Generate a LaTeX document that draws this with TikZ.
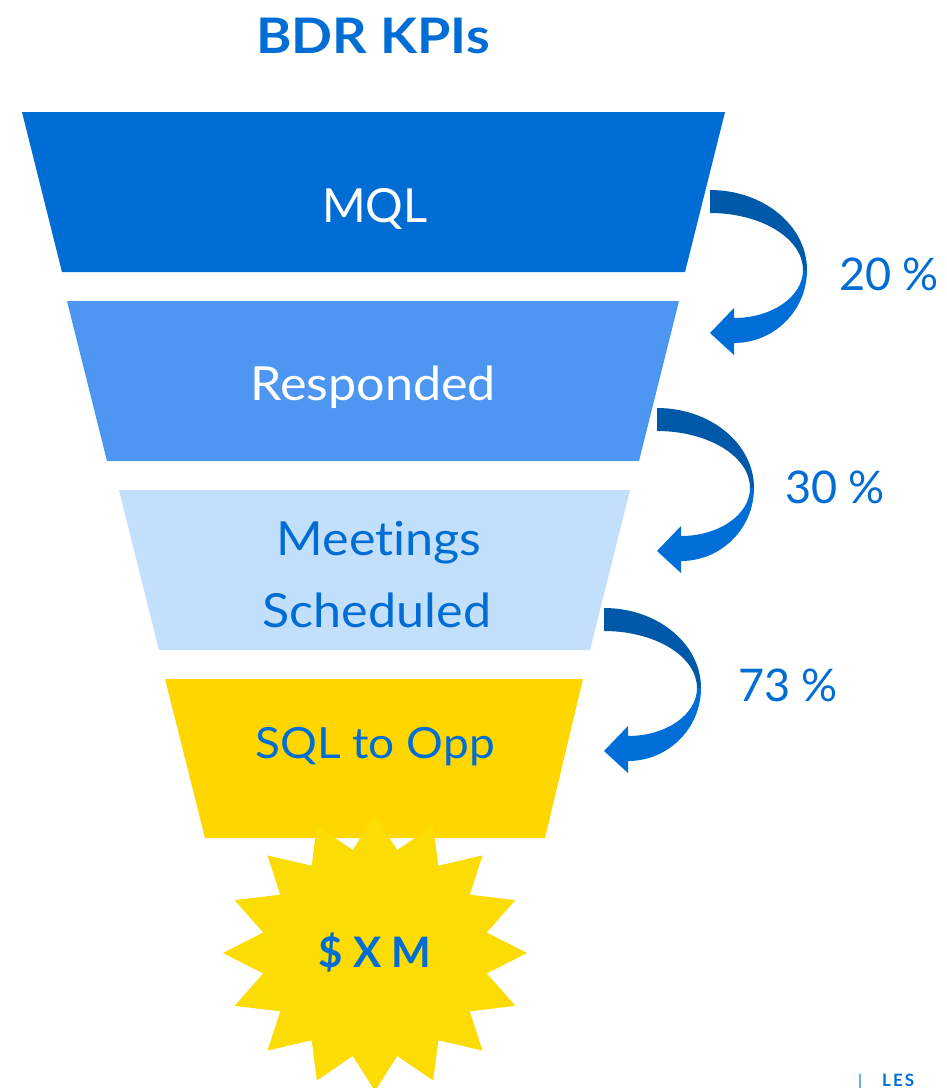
\documentclass[tikz,border=0pt]{standalone}
\usepackage{fontspec}
\setmainfont{Lato}[Ligatures=NoCommon]
\newfontfamily\widefont{Lato}[FakeStretch=1.07, Ligatures=NoCommon]
\newfontfamily\titlefont{Lato}[FakeStretch=1.1, Ligatures=NoCommon]
\usetikzlibrary{calc}

\definecolor{brandblue}{RGB}{0,109,213}
\definecolor{respblue}{RGB}{77,150,242}
\definecolor{meetblue}{RGB}{194,224,251}
\definecolor{sqlyellow}{RGB}{255,214,0}
\definecolor{staryellow}{RGB}{251,220,5}
\definecolor{arrowdark}{RGB}{0,88,168}
\definecolor{arrowlight}{RGB}{0,110,214}

\tikzset{
  stagelabel/.style={anchor=base, inner sep=0pt, font=\widefont\fontsize{47}{56}\selectfont},
  ratelabel/.style={anchor=base, inner sep=0pt, text=brandblue, font=\fontsize{45}{54}\selectfont},
  % curved ribbon arrow from one funnel stage to the next
  turnarrow/.pic={
    \fill[arrowdark] (0,0) arc[start angle=-90,end angle=0,x radius=97,y radius=80]
      -- (93,80) arc[start angle=0,end angle=-90,x radius=93,y radius=57] -- cycle;
    \fill[arrowlight] (97,80) arc[start angle=0,end angle=90,x radius=73,y radius=73]
      -- (24,165) -- (0,143) -- (24,118) -- (24,128)
      arc[start angle=90,end angle=0,x radius=69,y radius=48] -- cycle;
  }
}

\begin{document}
\begin{tikzpicture}[x=1pt,y=-1pt]
\useasboundingbox (0,0) rectangle (946,1088);

% title
\node[anchor=base, inner sep=0pt, text=brandblue, font=\titlefont\fontsize{49}{58}\selectfont\bfseries] (title) at (373,53) {BDR KPIs};

% funnel stages
\fill[brandblue] (22,112) -- (725,112) -- (685,272) -- (62,272) -- cycle;
\fill[respblue] (67,301) -- (679,301) -- (639,461) -- (107,461) -- cycle;
\fill[meetblue] (119,490) -- (630,490) -- (590,650) -- (159,650) -- cycle;
\fill[sqlyellow] (165,679) -- (583,679) -- (545,838) -- (205,838) -- cycle;

\node[stagelabel, text=white, font=\fontsize{47}{56}\selectfont] (mql) at (375,222) {MQL};
\node[stagelabel, text=white] (responded) at (373,400) {Responded};
\node[stagelabel, text=brandblue] (meetings) at (379,555) {Meetings};
\node[stagelabel, text=brandblue] (scheduled) at (377,627) {Scheduled};
\node[stagelabel, text=brandblue, font=\widefont\fontsize{43}{52}\selectfont] (sqlopp) at (375,758) {SQL to Opp};

% result burst
\fill[staryellow] plot[samples at={0,...,31}, variable=\k]
  ({375 + ifthenelse(mod(\k,2)==0,152,114)*cos(\k*11.25)},
   {953 + ifthenelse(mod(\k,2)==0,138,105)*sin(\k*11.25)}) -- cycle;
\node[anchor=base, inner sep=0pt, text=brandblue, font=\fontsize{42}{50}\selectfont\bfseries] (money) at (375,967) {\$ X M};

% conversion arrows
\coordinate (turnA) at (710,190);
\coordinate (turnB) at (657,408);
\coordinate (turnC) at (604,608);
\pic at (turnA) {turnarrow};
\pic at (turnB) {turnarrow};
\pic at (turnC) {turnarrow};

\node[ratelabel] (rateA) at (889,290) {20 \%};
\node[ratelabel] (rateB) at (835,503) {30 \%};
\node[ratelabel] (rateC) at (788,701) {73 \%};

% footer mark
\node[anchor=base west, inner sep=0pt, text=brandblue, font=\fontsize{16}{18}\selectfont] (bar) at (858,1086) {|};
\node[anchor=base west, inner sep=0pt, text=brandblue, font=\fontsize{17}{18}\selectfont\bfseries\addfontfeatures{LetterSpace=12}] (les) at (882,1086) {LES};
\end{tikzpicture}
\end{document}
